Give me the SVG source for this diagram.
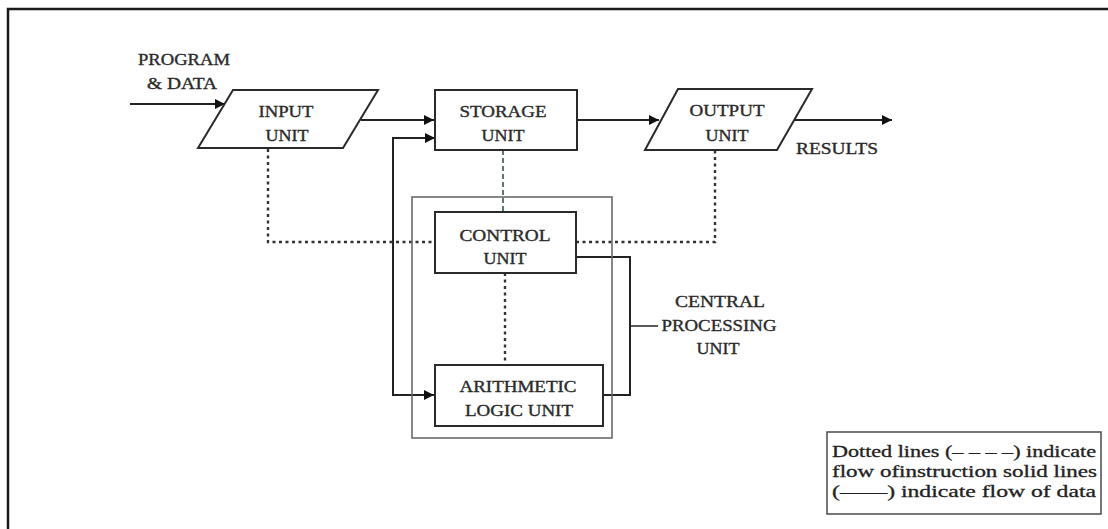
<svg xmlns="http://www.w3.org/2000/svg" width="1108" height="529" viewBox="0 0 1108 529">
<style>
.lbl{font-family:"Liberation Serif","DejaVu Serif",serif;font-size:16px;fill:#2a2a2a;stroke:#2a2a2a;stroke-width:0.35;text-anchor:middle;}
.leg{font-family:"Liberation Serif","DejaVu Serif",serif;font-size:16px;fill:#222;stroke:#222;stroke-width:0.3;}
.shape{fill:#fff;stroke:#2a2a2a;stroke-width:2;}
.solid{fill:none;stroke:#222;stroke-width:2;}
.dot{fill:none;stroke:#333;stroke-width:2.4;stroke-dasharray:3 3.5;}
.dash{fill:none;stroke:#5c7a68;stroke-width:2;stroke-dasharray:5 3;}
</style>
<defs>
<marker id="ah" viewBox="0 0 10 10" refX="10" refY="5" markerWidth="10" markerHeight="10" markerUnits="userSpaceOnUse" orient="auto">
<path d="M0,0 L10,5 L0,10 z" fill="#111"/>
</marker>
<marker id="ahs" viewBox="0 0 10 10" refX="0" refY="5" markerWidth="10" markerHeight="10" markerUnits="userSpaceOnUse" orient="auto">
<path d="M10,0 L0,5 L10,10 z" fill="#111"/>
</marker>
</defs>
<rect width="1108" height="529" fill="#fff"/>
<path d="M8,529 V9 H1108" fill="none" stroke="#1a1a1a" stroke-width="2.5"/>

<g id="connectors">
<line class="solid" x1="130" y1="104" x2="225" y2="104" marker-end="url(#ah)"/>
<line class="solid" x1="361" y1="120" x2="434" y2="120" marker-end="url(#ah)"/>
<line class="solid" x1="577" y1="120" x2="659" y2="120" marker-end="url(#ah)"/>
<line class="solid" x1="794" y1="120" x2="892" y2="120" marker-end="url(#ah)"/>
<polyline class="solid" points="434,138 393,138 393,395 434,395" marker-end="url(#ah)"/>
<path d="M425,133 L435,138 L425,143 z" fill="#111"/>
<polyline class="solid" points="576,257 630,257 630,395 603,395"/>
<line class="solid" x1="630" y1="326" x2="658" y2="326" style="stroke-width:1.5"/>
<polyline class="dot" points="268,149 268,242 435,242"/>
<polyline class="dot" points="576,242 715,242 715,150"/>
<line class="dash" x1="503" y1="150" x2="503" y2="212"/>
<line class="dot" x1="505" y1="273" x2="505" y2="365"/>
</g>

<g id="program-data">
<text class="lbl" x="184" y="65" textLength="92" lengthAdjust="spacingAndGlyphs">PROGRAM</text>
<text class="lbl" x="182" y="89" textLength="70" lengthAdjust="spacingAndGlyphs">&amp; DATA</text>
</g>

<g id="input-unit">
<polygon class="shape" points="233,90 378,90 343,148 198,148"/>
<text class="lbl" x="286" y="117" textLength="55" lengthAdjust="spacingAndGlyphs">INPUT</text>
<text class="lbl" x="287" y="141" textLength="43" lengthAdjust="spacingAndGlyphs">UNIT</text>
</g>

<g id="storage-unit">
<rect class="shape" x="435" y="90" width="142" height="60"/>
<text class="lbl" x="503" y="117" textLength="87" lengthAdjust="spacingAndGlyphs">STORAGE</text>
<text class="lbl" x="503" y="141" textLength="43" lengthAdjust="spacingAndGlyphs">UNIT</text>
</g>

<g id="output-unit">
<polygon class="shape" points="678,89 812,89 777,150 645,150"/>
<text class="lbl" x="727" y="116" textLength="75" lengthAdjust="spacingAndGlyphs">OUTPUT</text>
<text class="lbl" x="727" y="141" textLength="43" lengthAdjust="spacingAndGlyphs">UNIT</text>
</g>

<g id="results">
<text class="lbl" x="837" y="154" textLength="82" lengthAdjust="spacingAndGlyphs">RESULTS</text>
</g>

<g id="cpu">
<rect x="412" y="197" width="200" height="241" fill="none" stroke="#6a6a6a" stroke-width="1.6"/>
<text class="lbl" x="720" y="307" textLength="90" lengthAdjust="spacingAndGlyphs">CENTRAL</text>
<text class="lbl" x="719" y="331" textLength="115" lengthAdjust="spacingAndGlyphs">PROCESSING</text>
<text class="lbl" x="718" y="354" textLength="43" lengthAdjust="spacingAndGlyphs">UNIT</text>
</g>

<g id="control-unit">
<rect class="shape" x="435" y="212" width="141" height="61"/>
<text class="lbl" x="505" y="241" textLength="91" lengthAdjust="spacingAndGlyphs">CONTROL</text>
<text class="lbl" x="505" y="264" textLength="43" lengthAdjust="spacingAndGlyphs">UNIT</text>
</g>

<g id="alu">
<rect class="shape" x="435" y="365" width="168" height="61"/>
<text class="lbl" x="518" y="392" textLength="117" lengthAdjust="spacingAndGlyphs">ARITHMETIC</text>
<text class="lbl" x="519" y="416" textLength="108" lengthAdjust="spacingAndGlyphs">LOGIC UNIT</text>
</g>

<g id="legend">
<rect x="827" y="432" width="274" height="82" fill="#fff" stroke="#555" stroke-width="1.6"/>
<text class="leg" x="832" y="457" textLength="264" lengthAdjust="spacingAndGlyphs">Dotted lines (– – – –) indicate</text>
<text class="leg" x="832" y="477" textLength="265" lengthAdjust="spacingAndGlyphs">flow ofinstruction solid lines</text>
<text class="leg" x="832" y="497" textLength="264" lengthAdjust="spacingAndGlyphs">(——) indicate flow of data</text>
</g>
</svg>
